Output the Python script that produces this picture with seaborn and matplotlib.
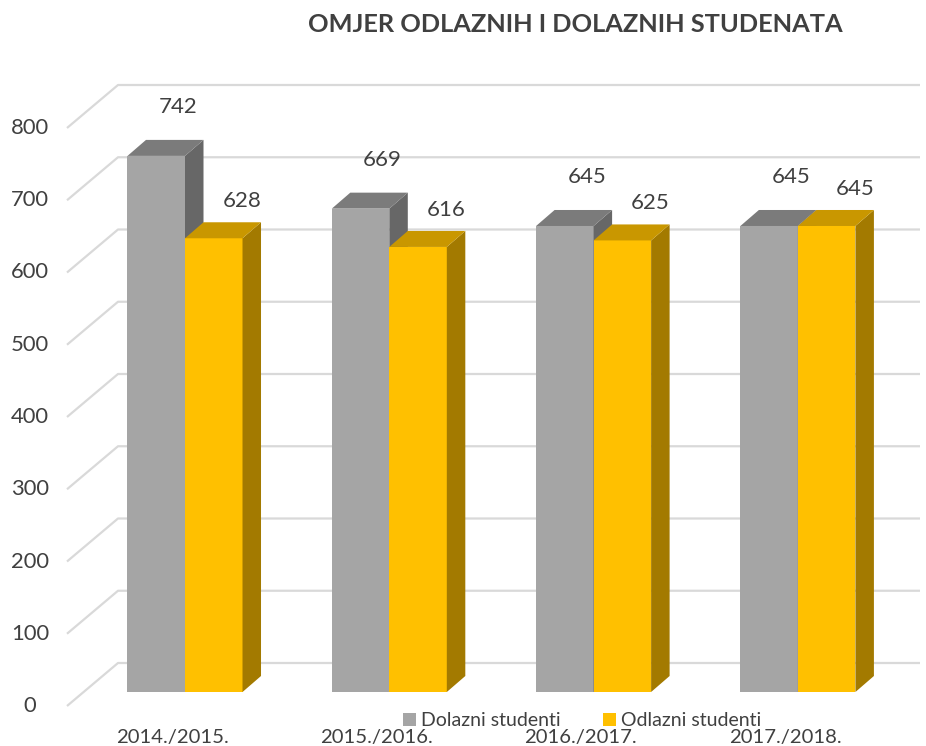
import numpy as np
import pandas as pd
import matplotlib
matplotlib.use("Agg")
import matplotlib.pyplot as plt
import seaborn as sns
from matplotlib.patches import Polygon

# ---------------- data ----------------
categories = ["2014./2015.", "2015./2016.", "2016./2017.", "2017./2018."]
series_names = ["Dolazni studenti", "Odlazni studenti"]
dolazni = [742, 669, 645, 645]
odlazni = [628, 616, 625, 645]
y_ticks = [0, 100, 200, 300, 400, 500, 600, 700, 800]
title = "OMJER ODLAZNIH I DOLAZNIH STUDENATA"

df = pd.DataFrame({
    "Godina": categories * 2,
    "Serija": [series_names[0]] * len(categories) + [series_names[1]] * len(categories),
    "Broj": dolazni + odlazni,
})

# ---------------- style ----------------
sns.set_theme(style="white")
plt.rcParams['font.family'] = ['Lato', 'DejaVu Sans']
text_col = "#404040"

front_colors = ["#A5A5A5", "#FFC000"]
top_colors = ["#7B7B7B", "#C99700"]
side_colors = ["#676767", "#A37A00"]
grid_col = "#D9D9D9"

W, H = 926, 746
fig = plt.figure(figsize=(W / 100, H / 100), dpi=100)
L, R, T, B = 60, 925, 70, 720          # axes box in pixels
ax = fig.add_axes([L / W, 1 - B / H, (R - L) / W, (B - T) / H])
ax.set_facecolor("none")

sns.barplot(data=df, x="Godina", y="Broj", hue="Serija", palette=front_colors,
            width=0.563, saturation=1, linewidth=0, ax=ax)

# scale: category centre pixel, px per category, baseline pixel, px per unit
cx0, cstep, base_px, ypx = 185.0, 204.3, 692.0, 0.7225
ax.set_xlim((L - cx0) / cstep, (R - cx0) / cstep)
ax.set_ylim((base_px - B) / ypx, (base_px - T) / ypx)
ax.set_xticks([]); ax.set_yticks([])
ax.set_xlabel(""); ax.set_ylabel("")
for s in ax.spines.values():
    s.set_visible(False)

def px2x(p):
    return (p - cx0) / cstep

def dpx2y(d):
    return d / ypx

# 3D depth of bars (pixels)
depth_dx, depth_dy = 18.5, 16.0
dx = depth_dx / cstep
dy = dpx2y(depth_dy)

# ---------------- grid (floor diagonal + back wall) ----------------
front_off = dpx2y(-14)   # front plane below bar front
back_off = dpx2y(29)     # back wall above bar front
for v in y_ticks:
    ax.plot([px2x(67), px2x(118), px2x(920)],
            [v + front_off, v + back_off, v + back_off],
            color=grid_col, lw=1.6, zorder=0.5, clip_on=False, solid_capstyle="butt")
    ax.text(px2x(30), v + front_off, str(v), ha="center", va="center",
            fontsize=15.8, color=text_col)

# ---------------- 3D decoration of bars ----------------
label_off = [(22, 49), (28, 37)]
for k, cont in enumerate(ax.containers):
    for rect, val in zip(cont.patches, cont.datavalues):
        rect.set_zorder(2 + k)
        x0, w, h = rect.get_x(), rect.get_width(), rect.get_height()
        top = Polygon([(x0, h), (x0 + w, h), (x0 + w + dx, h + dy), (x0 + dx, h + dy)],
                      closed=True, facecolor=top_colors[k], edgecolor="none", zorder=2.1 + k)
        side = Polygon([(x0 + w, 0), (x0 + w + dx, dy), (x0 + w + dx, h + dy), (x0 + w, h)],
                       closed=True, facecolor=side_colors[k], edgecolor="none", zorder=2.1 + k)
        ax.add_patch(side)
        ax.add_patch(top)
        ax.annotate(f"{val:.0f}", xy=(x0 + w / 2, h), xytext=label_off[k],
                    textcoords="offset pixels", ha="center", va="center",
                    fontsize=16, color=text_col, zorder=10)

# ---------------- category labels ----------------
y_cat = dpx2y(base_px - 737)
for i, c in enumerate(categories):
    ax.text(i - 13 / cstep, y_cat, c, ha="center", va="center",
            fontsize=14.6, color=text_col, clip_on=False)

# ---------------- legend ----------------
handles, labels = ax.get_legend_handles_labels()
ax.legend(handles, labels, loc="center", bbox_to_anchor=(582 / W, 1 - 721 / H),
          bbox_transform=fig.transFigure, ncol=2, frameon=False,
          handlelength=0.65, handleheight=0.65, handletextpad=0.25,
          columnspacing=2.2, fontsize=14, labelcolor=text_col, borderpad=0)

# ---------------- title ----------------
fig.text(575 / W, 1 - 25 / H, title, ha="center", va="center",
         fontsize=18.3, fontweight="bold", color=text_col)

fig.savefig("out.png", dpi=100)
